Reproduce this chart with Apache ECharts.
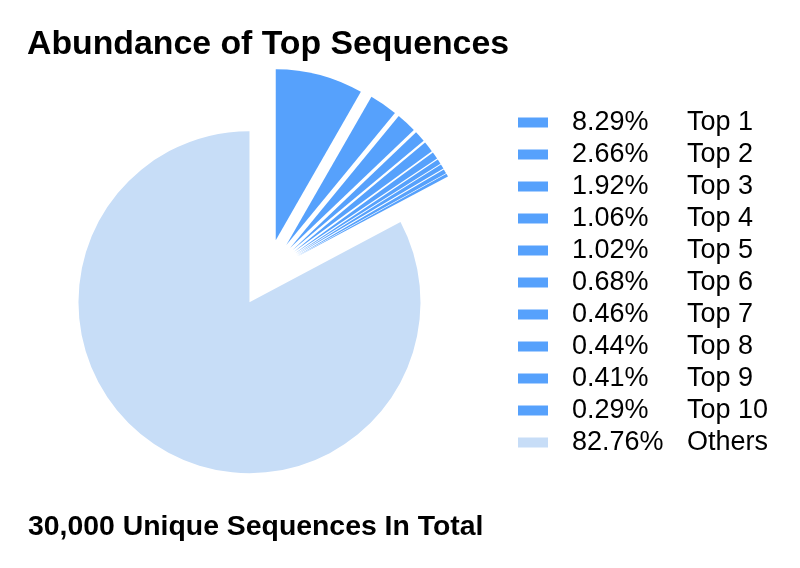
<!DOCTYPE html>
<html>
<head>
<meta charset="utf-8">
<script src="https://cdn.jsdelivr.net/npm/echarts@6/dist/echarts.min.js"></script>
<style>
    html, body {margin: 0; padding: 0; background: #fff;}
    #pie_chart {width: 800px; height: 568px;}
</style>
</head>
<body>
<div id="pie_chart"></div>
<script>
// data
var names = ['Top 1', 'Top 2', 'Top 3', 'Top 4', 'Top 5', 'Top 6', 'Top 7', 'Top 8', 'Top 9', 'Top 10', 'Others'];
var percents = [8.29, 2.66, 1.92, 1.06, 1.02, 0.68, 0.46, 0.44, 0.41, 0.29, 82.76];
var totalText = '30,000 Unique Sequences In Total';

var topColor = '#56a1fc';
var otherColor = '#c7ddf7';

var pieData = [];
names.forEach(function (name, i) {
    pieData.push({
        name: name,
        value: percents[i],
        selected: true,
        itemStyle: {color: name === 'Others' ? otherColor : topColor}
    });
});

var chart = echarts.init(document.getElementById('pie_chart'));
chart.setOption({
    animation: false,
    textStyle: {fontFamily: 'Liberation Sans, Arial, sans-serif'},
    title: [
        {
            text: 'Abundance of Top Sequences',
            left: 22,
            top: 23,
            textStyle: {fontSize: 33.8, fontWeight: 'bold', color: '#000'}
        },
        {
            text: totalText,
            left: 23,
            top: 508,
            textStyle: {fontSize: 28.4, fontWeight: 'bold', color: '#000'}
        }
    ],
    legend: {
        orient: 'vertical',
        left: 513,
        top: 104,
        itemWidth: 30,
        itemHeight: 10,
        itemGap: 5,
        icon: 'rect',
        data: names,
        formatter: function (name) {
            var i = names.indexOf(name);
            return '{a|' + percents[i].toFixed(2) + '%}{b|' + name + '}';
        },
        textStyle: {
            padding: [0, 0, 0, 19],
            rich: {
                a: {width: 115, fontSize: 27, color: '#000', lineHeight: 28},
                b: {fontSize: 27, color: '#000', lineHeight: 28}
            }
        }
    },
    series: [
        {
            type: 'pie',
            center: [267, 273],
            radius: 171,
            startAngle: 90,
            clockwise: true,
            selectedMode: 'multiple',
            selectedOffset: 34,
            label: {show: false},
            labelLine: {show: false},
            emphasis: {disabled: true},
            data: pieData
        }
    ]
});
</script>
</body>
</html>
